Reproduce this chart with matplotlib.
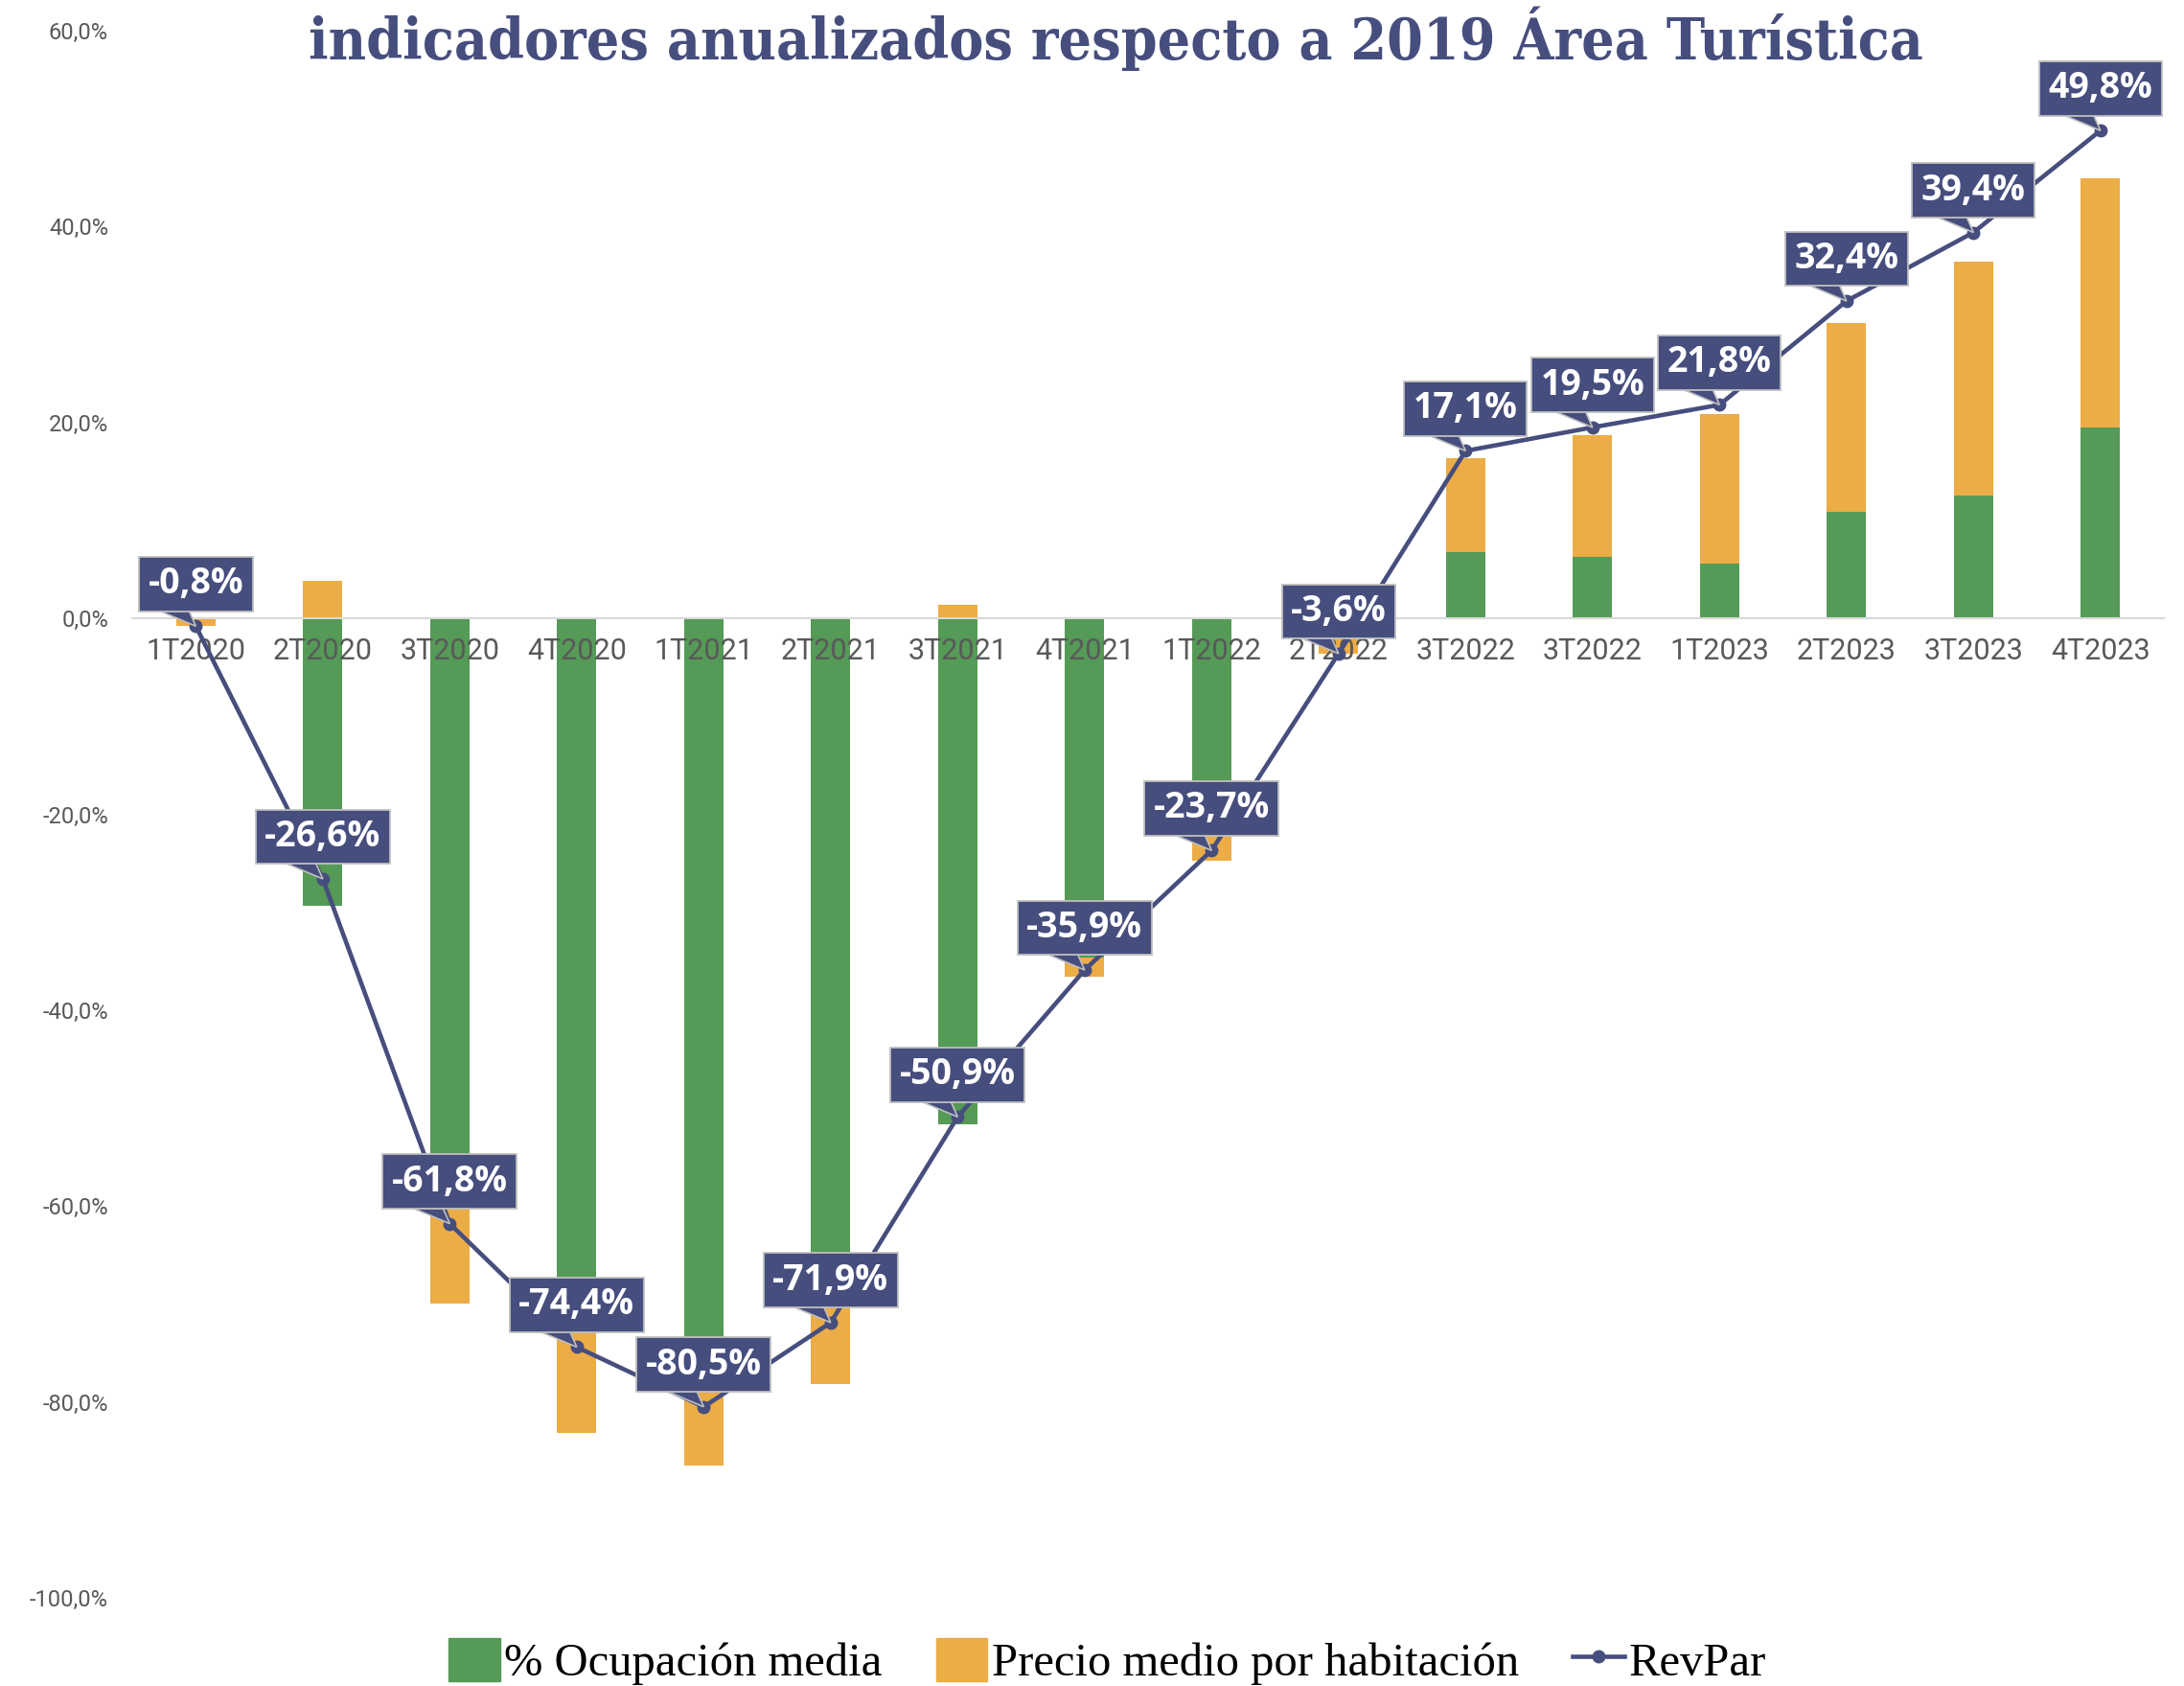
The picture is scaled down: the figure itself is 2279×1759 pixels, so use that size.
import matplotlib
matplotlib.use("Agg")
import matplotlib.pyplot as plt
import matplotlib.transforms as mtransforms
from matplotlib.patches import Patch, Polygon
from matplotlib.lines import Line2D
import numpy as np

# ---- data (variación respecto a 2019, %) ----
trimestres = ["1T2020", "2T2020", "3T2020", "4T2020", "1T2021", "2T2021", "3T2021", "4T2021",
              "1T2022", "2T2022", "3T2022", "3T2022", "1T2023", "2T2023", "3T2023", "4T2023"]
ocupacion = [-0.1, -29.3, -55.1, -70.7, -78.9, -69.1, -51.7, -34.6,
             -19.6, -1.5, 6.8, 6.3, 5.6, 10.9, 12.5, 19.5]
precio = [-0.7, 3.8, -14.9, -12.5, -7.6, -9.1, 1.4, -2.0,
          -5.1, -2.1, 9.6, 12.4, 15.3, 19.3, 23.9, 25.4]
revpar = [-0.8, -26.6, -61.8, -74.4, -80.5, -71.9, -50.9, -35.9,
          -23.7, -3.6, 17.1, 19.5, 21.8, 32.4, 39.4, 49.8]
yticks = [-100, -80, -60, -40, -20, 0, 20, 40, 60]

VERDE = "#559A57"
NARANJA = "#ECAC46"
AZUL = "#464E7E"
GRIS = "#595959"
BORDE = "#BFBFBF"

fig = plt.figure(figsize=(22.79, 17.59), dpi=100)
ax = fig.add_axes([0.0606, 0.0523, 0.9302, 0.9295])

# eje x pegado al cero (antes de estilar las etiquetas, set_position las resetea)
for s in ["top", "right", "left"]:
    ax.spines[s].set_visible(False)
ax.spines["bottom"].set_position(("data", 0))
ax.spines["bottom"].set_color("#D9D9D9")
ax.spines["bottom"].set_linewidth(1.5)

x = np.arange(len(trimestres))
occ = np.array(ocupacion)
pre = np.array(precio)
# apilado tipo Excel: positivos sobre positivos, negativos bajo negativos
base = np.where(np.sign(occ) == np.sign(pre), occ, 0.0)

w = 0.31
ax.bar(x, occ, w, color=VERDE, zorder=1)
ax.bar(x, pre, w, bottom=base, color=NARANJA, zorder=1)
ax.plot(x, revpar, "-o", color=AZUL, lw=3.3, ms=9, zorder=2.6)

# etiquetas tipo "globo" con colita hacia el punto
pt2px = fig.dpi / 72.0
for xi, v in zip(x, revpar):
    ax.annotate(f"{v:.1f}%".replace(".", ","), (xi, v), xytext=(0, 18),
                textcoords="offset points", ha="center", va="bottom",
                fontsize=27, fontweight="bold", family="Open Sans", color="white",
                bbox=dict(boxstyle="square,pad=0.25", fc=AZUL, ec=BORDE, lw=1.3),
                zorder=4)
    tr = mtransforms.Affine2D().scale(pt2px) + mtransforms.ScaledTranslation(xi, v, ax.transData)
    cola = Polygon([(-32, 13.5), (-6, 13.5), (0, 0)], closed=True, fc=AZUL, ec=BORDE,
                   lw=1.2, transform=tr, zorder=3.5)
    ax.add_patch(cola)

ax.set_xlim(-0.5, len(trimestres) - 0.5)
ax.set_ylim(-100, 60)
ax.set_yticks(yticks)
ax.set_yticklabels([f"{t:.1f}%".replace(".", ",") for t in yticks],
                   fontsize=17, color=GRIS, family="Roboto")
ax.set_xticks(x)
ax.set_xticklabels(trimestres, fontsize=22, color=GRIS, family="Roboto")
ax.tick_params(axis="y", length=0, pad=18)
ax.tick_params(axis="x", length=0, pad=14)

fig.text(0.511, 0.977, "indicadores anualizados respecto a 2019 Área Turística",
         ha="center", va="center", fontsize=43.5, fontweight="bold",
         family="DejaVu Serif", fontstretch="condensed", color=AZUL)

handles = [Patch(color=VERDE), Patch(color=NARANJA),
           Line2D([], [], color=AZUL, lw=3.3, marker="o", ms=9)]
labels = ["% Ocupación media", "Precio medio por habitación", "RevPar"]
fig.legend(handles, labels, loc="center", bbox_to_anchor=(0.507, 0.0145), ncol=3,
           frameon=False, prop={"family": "Liberation Serif", "size": 35},
           handlelength=1.1, handleheight=1.05, handletextpad=0.1, columnspacing=1.15)

fig.savefig("out.png", dpi=100)
